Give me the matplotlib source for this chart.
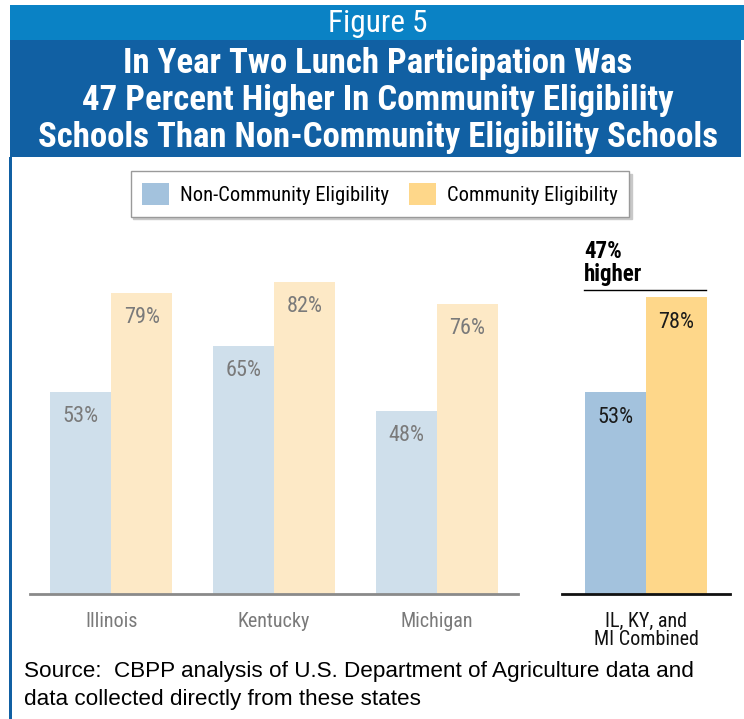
import matplotlib
matplotlib.use("Agg")
import matplotlib.pyplot as plt
from matplotlib.patches import Rectangle, Patch
import numpy as np

# ── Data ────────────────────────────────────────────────────────────────────
states = ["Illinois", "Kentucky", "Michigan"]
non_ce = [53, 65, 48]
ce = [79, 82, 76]
combined_label = "IL, KY, and\nMI Combined"
combined_non_ce = [53]
combined_ce = [78]

# ── Style ───────────────────────────────────────────────────────────────────
W, H = 744, 719
NARROW = ["Roboto Condensed", "Liberation Sans Narrow", "Roboto", "DejaVu Sans"]
SANS = ["Liberation Sans", "DejaVu Sans"]
BAND_LIGHT = "#0a82c5"
BAND_DARK = "#1160a3"
PALE_BLUE = "#cfdfeb"
PALE_GOLD = "#fde9c6"
BLUE = "#a3c2dd"
GOLD = "#fed78a"
GRAY_TXT = "#7a7a7a"

fig = plt.figure(figsize=(W / 100, H / 100), dpi=100)
fig.patch.set_facecolor("white")


def fx(x):
    return x / W


def fy(y):
    return 1 - y / H


def rect(x0, y0, x1, y1, color):
    fig.patches.append(Rectangle((fx(x0), fy(y1)), fx(x1) - fx(x0), fy(y0) - fy(y1),
                                 transform=fig.transFigure, facecolor=color,
                                 edgecolor="none", zorder=0))


# ── Header bands & frame ────────────────────────────────────────────────────
rect(10, 5, 744, 40, BAND_LIGHT)
rect(10, 40, 741, 157, BAND_DARK)
rect(9, 157, 12, 719, BAND_DARK)

fig.text(fx(378), fy(23), "Figure 5", color="white", fontsize=22.5,
         family=NARROW, ha="center", va="center")
title_lines = ["In Year Two Lunch Participation Was",
               "47 Percent Higher In Community Eligibility",
               "Schools Than Non-Community Eligibility Schools"]
for i, t in enumerate(title_lines):
    fig.text(fx(378), fy(63 + i * 37.5), t, color="white", fontsize=25,
             family=NARROW, weight="bold", ha="center", va="center")

# ── Left panel: individual states ───────────────────────────────────────────
base_y = 594
top_y = base_y - 381   # 100 % level
ax = fig.add_axes([fx(30), fy(base_y), fx(518) - fx(30), fy(top_y) - fy(base_y)])
x = np.arange(len(states))
bw = 0.375
b1 = ax.bar(x - bw / 2, non_ce, bw, color=PALE_BLUE, zorder=2)
b2 = ax.bar(x + bw / 2, ce, bw, color=PALE_GOLD, zorder=2)
ax.set_xlim(-0.5, len(states) - 0.5)
ax.set_ylim(0, 100)
for bars in (b1, b2):
    for r in bars:
        ax.annotate(f"{r.get_height():.0f}%", (r.get_x() + r.get_width() / 2, r.get_height()),
                    xytext=(0, -14), textcoords="offset pixels", ha="center", va="top",
                    fontsize=16, color=GRAY_TXT, family=NARROW)
ax.set_xticks(x)
ax.set_xticklabels(states, fontsize=14.5, color=GRAY_TXT, family=NARROW)
ax.tick_params(axis="x", length=0, pad=13)
ax.set_yticks([])
for s in ("top", "right", "left"):
    ax.spines[s].set_visible(False)
ax.spines["bottom"].set_color("#8a8a8a")
ax.spines["bottom"].set_linewidth(2)
ax.patch.set_alpha(0)

# ── Right panel: combined ───────────────────────────────────────────────────
cw = 0.363
ax2 = fig.add_axes([fx(562), fy(base_y), fx(730) - fx(562), fy(top_y) - fy(base_y)])
c1 = ax2.bar([-cw / 2], combined_non_ce, cw, color=BLUE, zorder=2)
c2 = ax2.bar([cw / 2], combined_ce, cw, color=GOLD, zorder=2)
ax2.set_xlim(-0.5, 0.5)
ax2.set_ylim(0, 100)
for bars in (c1, c2):
    for r in bars:
        ax2.annotate(f"{r.get_height():.0f}%", (r.get_x() + r.get_width() / 2, r.get_height()),
                     xytext=(0, -15), textcoords="offset pixels", ha="center", va="top",
                     fontsize=16, color="#1a1a1a", family=NARROW)
ax2.set_xticks([0])
ax2.set_xticklabels([combined_label], fontsize=14.5, color="#111111", family=NARROW,
                    linespacing=0.95)
ax2.tick_params(axis="x", length=0, pad=13)
ax2.set_yticks([])
for s in ("top", "right", "left"):
    ax2.spines[s].set_visible(False)
ax2.spines["bottom"].set_color("#111111")
ax2.spines["bottom"].set_linewidth(2)
ax2.patch.set_alpha(0)

# "47% higher" callout
fig.text(fx(584), fy(252), "47%", fontsize=16.5, weight="bold", family=NARROW,
         color="black", ha="left", va="center")
fig.text(fx(584), fy(275), "higher", fontsize=16.5, weight="bold", family=NARROW,
         color="black", ha="left", va="center")
fig.add_artist(plt.Line2D([fx(584), fx(706)], [fy(290), fy(290)], color="black",
                          lw=1, transform=fig.transFigure))

# ── Legend ──────────────────────────────────────────────────────────────────
handles = [Patch(facecolor=BLUE, label="Non-Community Eligibility"),
           Patch(facecolor=GOLD, label="Community Eligibility")]
leg = fig.legend(handles=handles, loc="center", bbox_to_anchor=(fx(380), fy(194)),
                 ncol=2, frameon=True, fancybox=False,
                 shadow={"color": "#c8c8c8", "alpha": 1, "ox": 2, "oy": -2},
                 edgecolor="#9a9a9a", prop={"family": NARROW, "size": 14.8},
                 handlelength=1.3, handleheight=1.3, columnspacing=1.0,
                 handletextpad=0.55, borderpad=0.55)
leg.get_frame().set_linewidth(1)

# ── Source ──────────────────────────────────────────────────────────────────
fig.text(fx(24), fy(672), "Source:  CBPP analysis of U.S. Department of Agriculture data and",
         fontsize=16.2, family=SANS, color="black", ha="left", va="center")
fig.text(fx(24), fy(699), "data collected directly from these states",
         fontsize=16.2, family=SANS, color="black", ha="left", va="center")

fig.savefig("out.png", dpi=100, facecolor="white")
